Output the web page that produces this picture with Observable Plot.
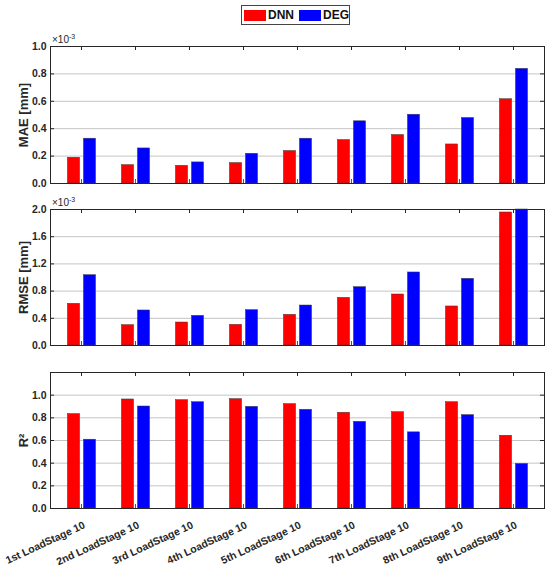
<!DOCTYPE html>
<html>
<head>
<meta charset="utf-8">
<script src="https://cdn.jsdelivr.net/npm/d3@7"></script>
<script src="https://cdn.jsdelivr.net/npm/@observablehq/plot@0.6"></script>
<style>
  html, body { margin: 0; padding: 0; background: white; }
  #chart { position: relative; width: 550px; height: 573px; font-family: "Liberation Sans", Arial, sans-serif; }
  #legend { position: absolute; left: 241px; top: 5px; width: 107px; height: 18px; border: 1px solid #444; background: #fff;
            display: flex; align-items: center; font-size: 12px; font-weight: bold; color: #111; box-sizing: content-box; }
  .sw { width: 22px; height: 11px; }
  #plots { position: absolute; left: 0; top: 30px; }
</style>
</head>
<body>
<div id="chart">
  <div id="plots"></div>
  <div id="legend">
    <div class="sw" style="background:#ff0000;margin-left:2px;"></div>
    <span style="margin-left:2px;">DNN</span>
    <div class="sw" style="background:#0000ff;margin-left:5px;"></div>
    <span style="margin-left:2px;">DEG</span>
  </div>
</div>
<script>
// ---- data ----
const categories = ["1st LoadStage 10", "2nd LoadStage 10", "3rd LoadStage 10", "4th LoadStage 10",
  "5th LoadStage 10", "6th LoadStage 10", "7th LoadStage 10", "8th LoadStage 10", "9th LoadStage 10"];
const series = ["DNN", "DEG"];
// MAE [mm], in units of 1e-3
const dnnMAE = [0.188, 0.134, 0.129, 0.149, 0.237, 0.317, 0.354, 0.285, 0.615];
const degMAE = [0.327, 0.256, 0.154, 0.217, 0.327, 0.454, 0.502, 0.478, 0.837];
// RMSE [mm], in units of 1e-3
const dnnRMSE = [0.613, 0.299, 0.338, 0.304, 0.451, 0.701, 0.750, 0.574, 1.956];
const degRMSE = [1.034, 0.515, 0.436, 0.520, 0.588, 0.858, 1.074, 0.980, 2.000];
// R^2
const dnnR2 = [0.833, 0.962, 0.956, 0.965, 0.921, 0.845, 0.850, 0.938, 0.642];
const degR2 = [0.607, 0.900, 0.938, 0.897, 0.871, 0.765, 0.672, 0.824, 0.393];
// tick values
const maeTicks = [0, 0.2, 0.4, 0.6, 0.8, 1.0];
const rmseTicks = [0, 0.4, 0.8, 1.2, 1.6, 2.0];
const r2Ticks = [0, 0.2, 0.4, 0.6, 0.8, 1.0];

// ---- layout ----
const W = 550, ML = 50, MR = 6;
const frameW = W - ML - MR;
const bw = frameW / categories.length;
const FONT = "Liberation Sans, Arial, sans-serif";
const AX = "#262626";

function panel({dnn, deg, domain, ticks, label, exp, mt, mb, fh, xLabels}) {
  const rows = categories.map((c, i) => ({c, DNN: dnn[i], DEG: deg[i]}));
  const marks = [
    Plot.gridY(ticks.filter(t => t > domain[0] && t < domain[1]), {stroke: "#c4c4c4", strokeOpacity: 1, strokeWidth: 1}),
    Plot.barY(rows, {x: "c", y: "DNN", fill: "#ff0000", stroke: "#3a3a3a", strokeWidth: 0.5,
      insetLeft: bw / 2 - 14, insetRight: bw / 2 + 1}),
    Plot.barY(rows, {x: "c", y: "DEG", fill: "#0000ff", stroke: "#3a3a3a", strokeWidth: 0.5,
      insetLeft: bw / 2 + 2, insetRight: bw / 2 - 15}),
    Plot.tickX(categories, {x: d => d, insetBottom: fh - 4, stroke: AX}),
    Plot.tickX(categories, {x: d => d, insetTop: fh - 4, stroke: "#555"}),
    Plot.tickY(ticks, {y: d => d, insetRight: frameW - 4, stroke: AX}),
    Plot.tickY(ticks, {y: d => d, insetLeft: frameW - 4, stroke: AX}),
    Plot.frame({stroke: AX, strokeWidth: 1}),
    Plot.axisY({ticks, tickFormat: d3.format(".1f"), tickSize: 0, tickPadding: 4, fill: AX,
      fontSize: 10.5, fontWeight: "bold", label: null}),
    Plot.text([label], {text: d => d, frameAnchor: "left", rotate: -90, dx: -27,
      fontSize: 13, fontWeight: "bold", fill: AX, textAnchor: "middle", lineAnchor: "middle"})
  ];
  if (xLabels) {
    marks.push(Plot.axisX({tickRotate: -25, tickSize: 0, tickPadding: 16, dx: 3, fill: AX,
      fontSize: 10.5, fontWeight: "bold", label: null}));
  }
  const svg = Plot.plot({
    width: W, height: mt + fh + mb,
    marginTop: mt, marginBottom: mb, marginLeft: ML, marginRight: MR,
    x: {domain: categories, padding: 0, axis: null},
    y: {domain, axis: null},
    style: {fontFamily: FONT, background: "transparent", overflow: "visible"},
    marks
  });
  if (exp) {
    const t = d3.select(svg).append("text")
      .attr("x", ML + 2).attr("y", mt - 3)
      .attr("text-anchor", "start")
      .attr("font-family", FONT).attr("font-size", 10).attr("fill", AX)
      .text("\u00d710");
    t.append("tspan").attr("dy", -4).attr("font-size", 7).text("-3");
  }
  return svg;
}

const host = document.getElementById("plots");
host.appendChild(panel({dnn: dnnMAE, deg: degMAE, domain: [0, 1.0], ticks: maeTicks,
  label: "MAE [mm]", exp: true, mt: 16, mb: 10, fh: 137}));
host.appendChild(panel({dnn: dnnRMSE, deg: degRMSE, domain: [0, 2.0], ticks: rmseTicks,
  label: "RMSE [mm]", exp: true, mt: 16, mb: 10, fh: 136}));
host.appendChild(panel({dnn: dnnR2, deg: degR2, domain: [0, 1.2], ticks: r2Ticks,
  label: "R\u00b2", exp: false, mt: 17, mb: 65, fh: 136, xLabels: true}));
</script>
</body>
</html>
